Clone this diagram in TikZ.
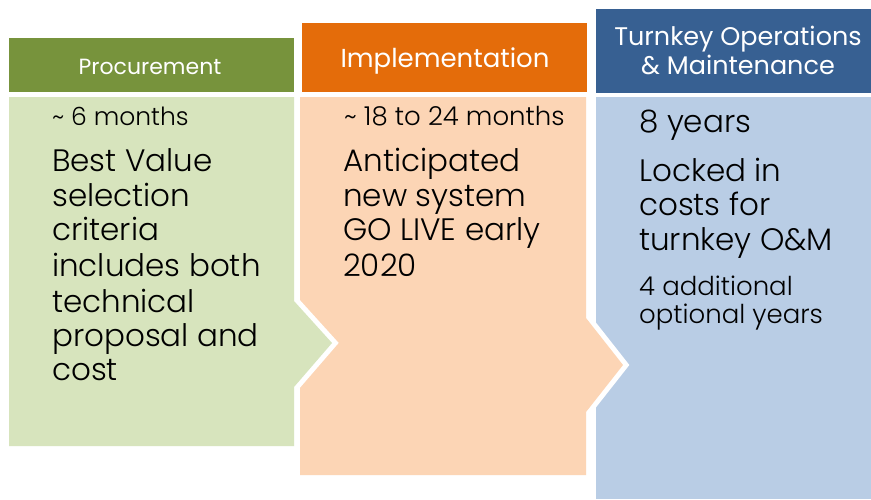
\documentclass[tikz,border=0pt]{standalone}
\usepackage{fontspec}
\setmainfont{Poppins}
\newfontfamily\bodyfont{Poppins Light}
\definecolor{greenhead}{HTML}{77933C}
\definecolor{greenbody}{HTML}{D7E4BD}
\definecolor{orangehead}{HTML}{E46C0A}
\definecolor{orangebody}{HTML}{FCD5B5}
\definecolor{bluehead}{HTML}{376092}
\definecolor{bluebody}{HTML}{B9CDE5}
\newcommand{\fsz}[1]{\fontsize{#1}{#1}\selectfont}
\tikzset{
  phasebody/.style={preaction={draw=white, line width=10pt, line join=miter}},
  headtext/.style={text=white, inner sep=0pt, anchor=base},
  line/.style={text=black, inner sep=0pt, anchor=base west},
}
\begin{document}
\begin{tikzpicture}[x=1pt, y=-1pt]
\useasboundingbox[fill=white] (0,0) rectangle (871,499);

% headers
\fill[greenhead] (9,38) rectangle (294,93);
\fill[orangehead] (302,23) rectangle (587,93);
\fill[bluehead] (596,9) rectangle (871,93);

% bodies, drawn right to left so each chevron overlaps its neighbour
\fill[bluebody] (596,97) rectangle (871,499);
\fill[orangebody, phasebody] (300,97) -- (586,97) -- (586,318) -- (623,365)
  -- (586,412) -- (586,475) -- (300,475) -- cycle;
\fill[greenbody, phasebody] (9,97) -- (294,97) -- (294,301) -- (332,343)
  -- (294,387) -- (294,446) -- (9,446) -- cycle;

% header titles
\node[headtext, font=\fsz{22}] (h1) at (150,74) {Procurement};
\node[headtext, font=\fsz{26}] (h2) at (445,67) {Implementation};
\node[headtext, font=\fsz{25.5}] (h3a) at (738,45) {Turnkey Operations};
\node[headtext, font=\fsz{25.5}] (h3b) at (738,74) {\& Maintenance};

% procurement
\node[line, font=\bodyfont\fsz{25}] (p0) at (52,125) {\textasciitilde\ 6 months};
\node[line, font=\bodyfont\fsz{31}] (p1) at (52,171) {Best Value};
\node[line, font=\bodyfont\fsz{31}] (p2) at (52,206) {selection};
\node[line, font=\bodyfont\fsz{31}] (p3) at (52,240) {criteria};
\node[line, font=\bodyfont\fsz{31}] (p4) at (52,276) {includes both};
\node[line, font=\bodyfont\fsz{31}] (p5) at (52,312) {technical};
\node[line, font=\bodyfont\fsz{31}] (p6) at (52,346) {proposal and};
\node[line, font=\bodyfont\fsz{31}] (p7) at (52,380) {cost};

% implementation
\node[line, font=\bodyfont\fsz{26}] (i0) at (344,125) {\textasciitilde\ 18 to 24 months};
\node[line, font=\bodyfont\fsz{31}] (i1) at (343,171) {Anticipated};
\node[line, font=\bodyfont\fsz{31}] (i2) at (343,206) {new system};
\node[line, font=\bodyfont\fsz{31}] (i3) at (343,240) {GO LIVE early};
\node[line, font=\bodyfont\fsz{31}] (i4) at (343,276) {2020};

% operations and maintenance
\node[line, font=\bodyfont\fsz{31}] (o0) at (639,132) {8 years};
\node[line, font=\bodyfont\fsz{31}] (o1) at (639,181) {Locked in};
\node[line, font=\bodyfont\fsz{31}] (o2) at (639,215) {costs for};
\node[line, font=\bodyfont\fsz{31}] (o3) at (639,250) {turnkey O\&M};
\node[line, font=\bodyfont\fsz{26}] (o4) at (639,295) {4 additional};
\node[line, font=\bodyfont\fsz{26}] (o5) at (639,323) {optional years};
\end{tikzpicture}
\end{document}
